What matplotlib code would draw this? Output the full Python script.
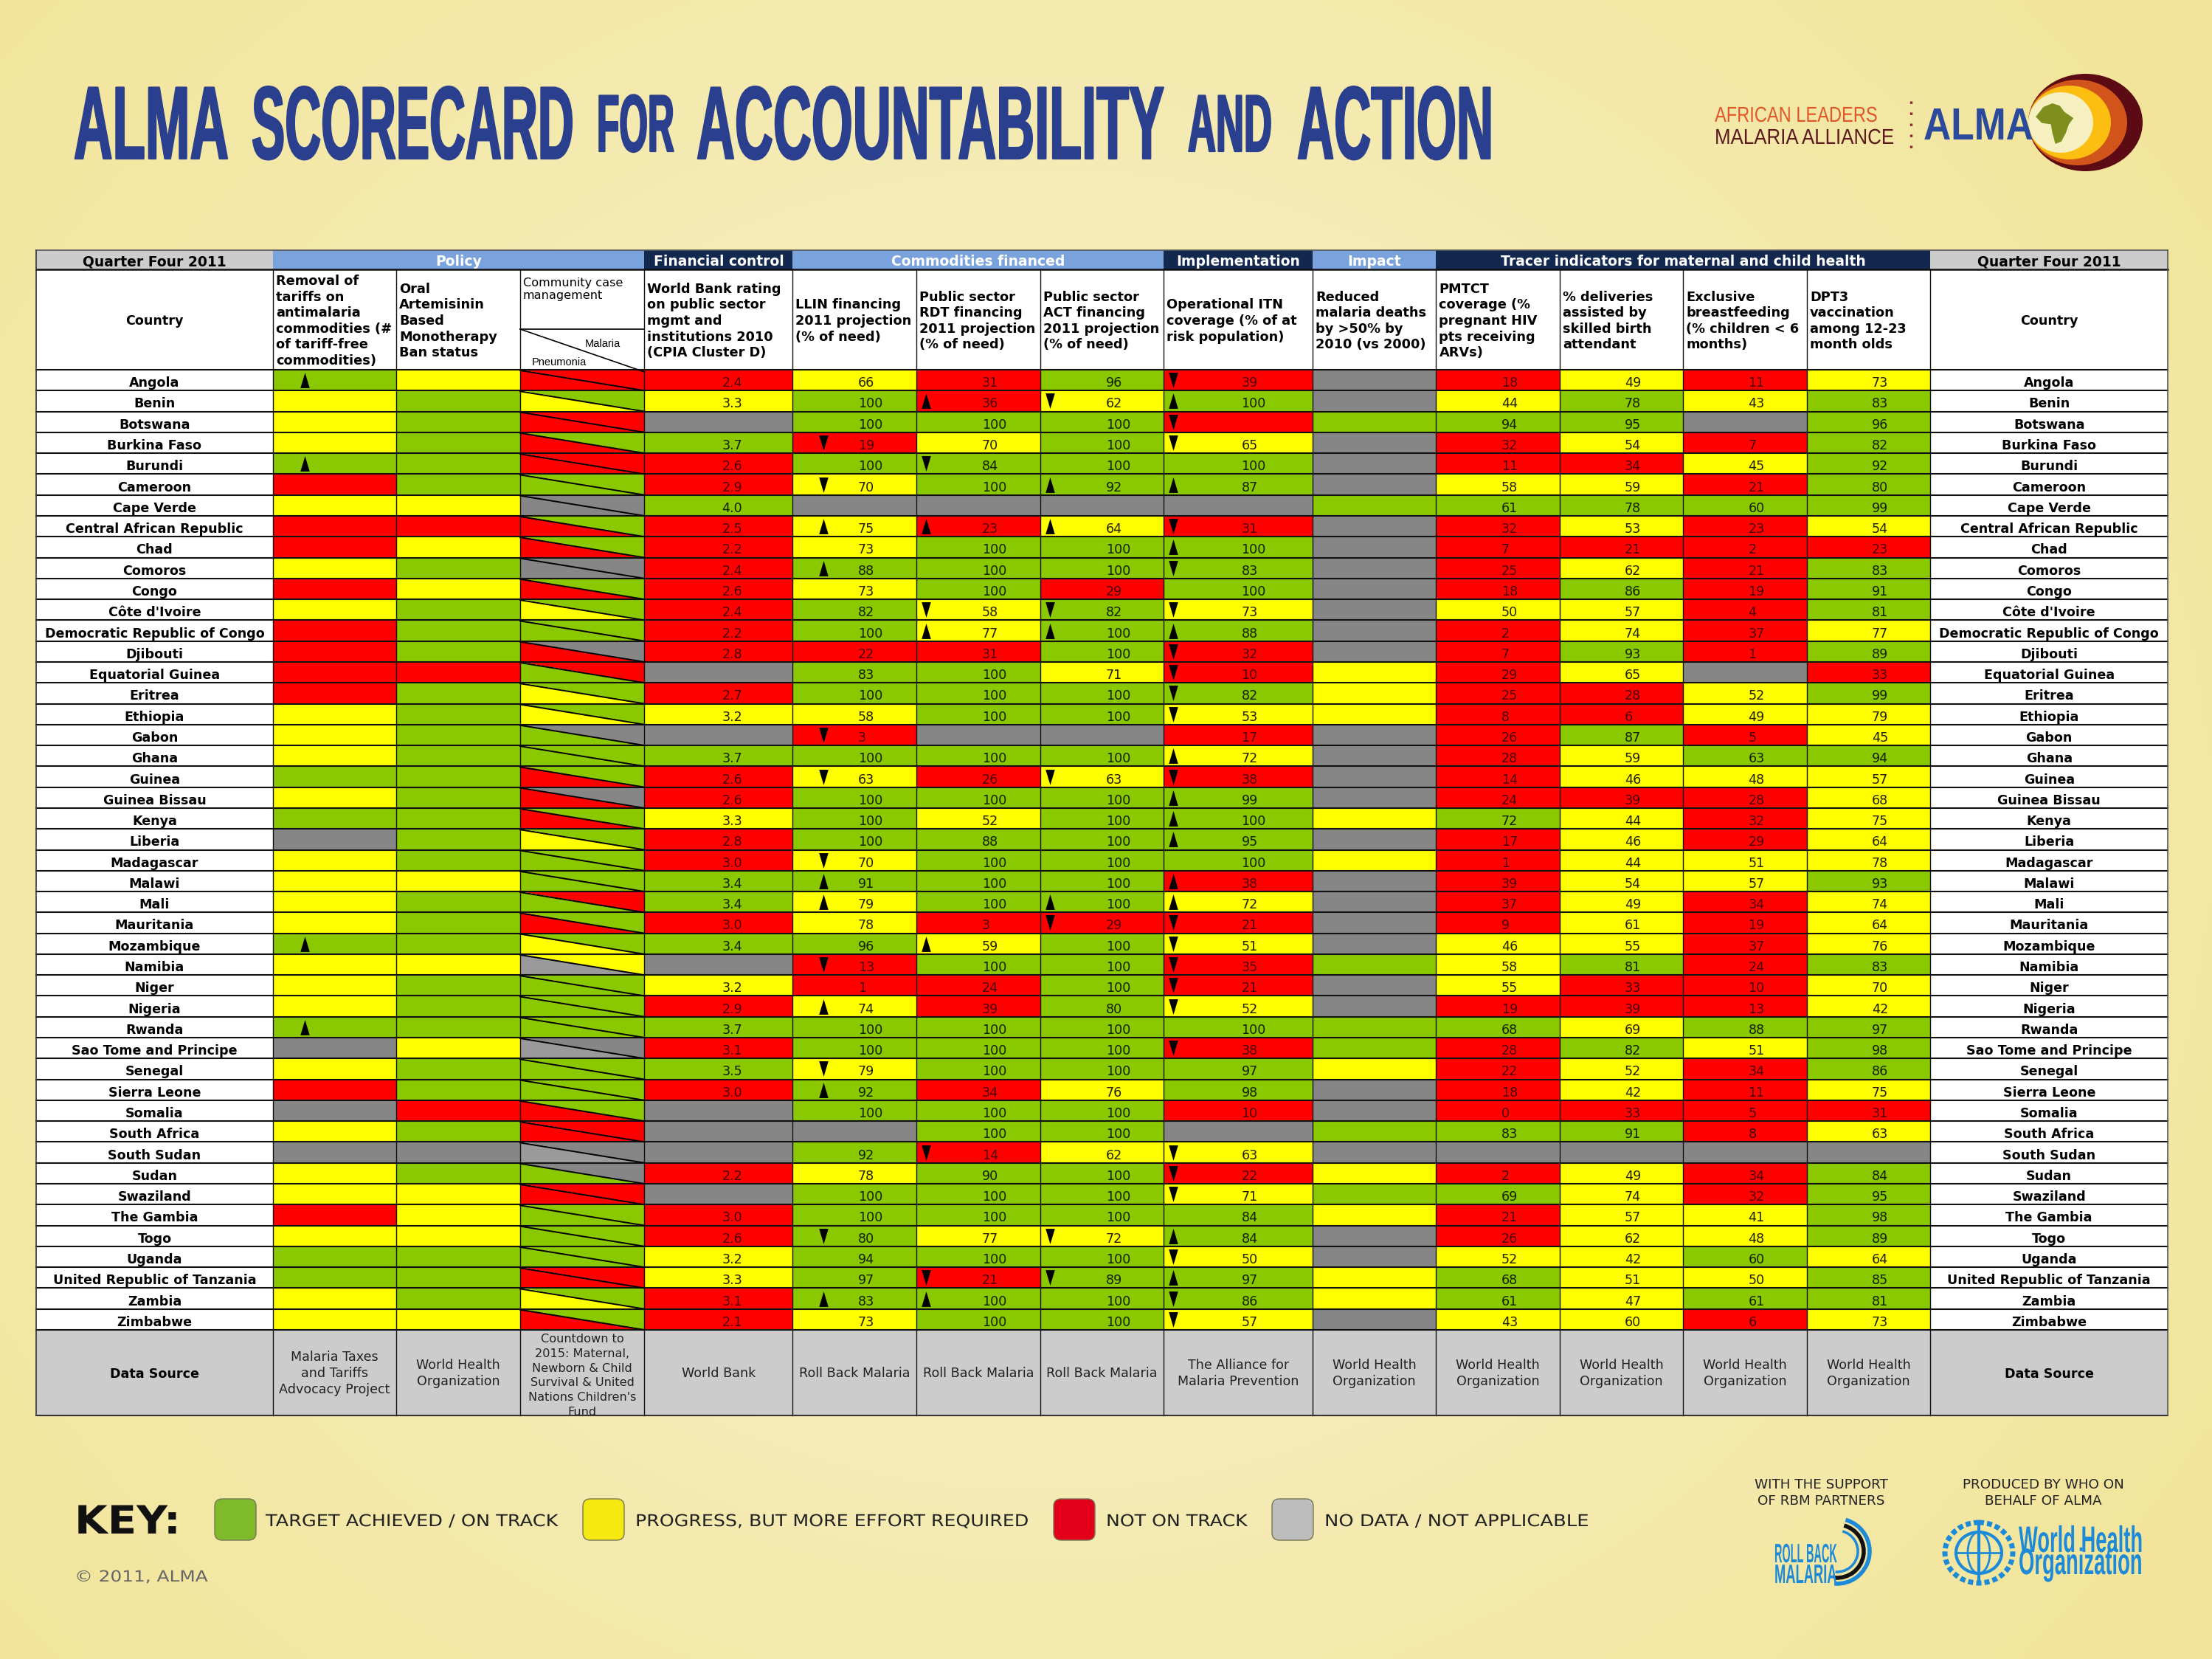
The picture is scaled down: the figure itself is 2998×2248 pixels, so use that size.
import numpy as np
import matplotlib
matplotlib.use('Agg')
import matplotlib.pyplot as plt
from matplotlib.patches import Rectangle, Polygon, Ellipse, FancyBboxPatch, Arc
from matplotlib.patheffects import AbstractPathEffect
from matplotlib.transforms import Affine2D

countries = ['Angola','Benin','Botswana','Burkina Faso','Burundi','Cameroon','Cape Verde','Central African Republic','Chad','Comoros',
             'Congo',"Côte d'Ivoire",'Democratic Republic of Congo','Djibouti','Equatorial Guinea','Eritrea','Ethiopia','Gabon','Ghana','Guinea',
             'Guinea Bissau','Kenya','Liberia','Madagascar','Malawi','Mali','Mauritania','Mozambique','Namibia','Niger',
             'Nigeria','Rwanda','Sao Tome and Principe','Senegal','Sierra Leone','Somalia','South Africa','South Sudan','Sudan','Swaziland',
             'The Gambia','Togo','Uganda','United Republic of Tanzania','Zambia','Zimbabwe']

# status per country: G on track, Y progress, R not on track, X no data, L no data (lighter)
tariff_col = "GYYYGRYRRY" "RYRRRRYYYG" "YGXYYYYGYY" "YGXYRXYXYY" "RYGGYY"
tariff_arrow = "u...u....." ".........." ".......u.." ".u........" "......"
oral_col = "YGGGGGYRYG" "YGGGRGGGGG" "GGGGYGGGYG" "GGYGGRGXGY" "YYGGGY"
malaria_col = "RGRGRGXGGX" "GGGXRGGXGG" "XGGGGRGGYG" "GGXGGGRXXR" "GGGRGG"
pneumonia_col = "RYRRRGXRRX" "RYGRGYYGGR" "RRYGGGRYLG" "GGLGGRRLGR" "GGGRYR"

wb_val = [2.4,3.3,None,3.7,2.6,2.9,4.0,2.5,2.2,2.4, 2.6,2.4,2.2,2.8,None,2.7,3.2,None,3.7,2.6,
          2.6,3.3,2.8,3.0,3.4,3.4,3.0,3.4,None,3.2, 2.9,3.7,3.1,3.5,3.0,None,None,None,2.2,None, 3.0,2.6,3.2,3.3,3.1,2.1]
wb_col = "RYXGRRGRRR" "RRRRXRYXGR" "RYRRGGRGXY" "RGRGRXXXRX" "RRYYRR"

llin_val = [66,100,100,19,100,70,None,75,73,88, 73,82,100,22,83,100,58,3,100,63,
            100,100,100,70,91,79,78,96,13,1, 74,100,100,79,92,100,None,92,78,100, 100,80,94,97,83,73]
llin_col = "YGGRGYXYYG" "YGGRGGYRGY" "GGGYGYYGRR" "YGGYGGXGYG" "GGGGGY"
llin_arrow = "...d.d.u.u" ".......d.d" "...duu..d." "u..du....." ".d..u."

rdt_val = [31,36,100,70,84,100,None,23,100,100, 100,58,77,31,100,100,100,None,100,26,
           100,52,88,100,100,100,3,59,100,24, 39,100,100,100,34,100,100,14,90,100, 100,77,100,21,100,100]
rdt_col = "RRGYGGXRGG" "GYYRGGGXGR" "GYGGGGRYGR" "RGGGRGGRGG" "GYGRGG"
rdt_arrow = ".u..d..u.." ".du......." ".......u.." ".......d.." "...du."

act_val = [96,62,100,100,100,92,None,64,100,100, 29,82,100,100,71,100,100,None,100,63,
           100,100,100,100,100,100,29,100,100,100, 80,100,100,100,76,100,100,62,100,100, 100,72,100,89,100,100]
act_col = "GYGGGGXYGG" "RGGGYGGXGY" "GGGGGGRGGG" "GGGGYGGYGG" "GYGGGG"
act_arrow = ".d...u.u.." ".du......d" ".....ud..." ".........." ".d.d.."

itn_val = [39,100,None,65,100,87,None,31,100,83, 100,73,88,32,10,82,53,17,72,38,
           99,100,95,100,38,72,21,51,35,21, 52,100,38,97,98,10,None,63,22,71, 84,84,50,97,86,57]
itn_col = "RGRYGGXRGG" "GYGRRGYRYR" "GGGGRYRYRR" "YGRGGRXYRY" "GGYGGY"
itn_arrow = "dudd.u.dud" ".dudddd.ud" "uuu.uudddd" "d.d....ddd" ".ududd"

impact_col = "XXGXXXGXXX" "XXXXYYYXXX" "XYXYXXXXGX" "XGGYXXGXYG" "YXXYYX"

pmtct_val = [18,44,94,32,11,58,61,32,7,25, 18,50,2,7,29,25,8,26,28,14,
             24,72,17,1,39,37,9,46,58,55, 19,68,28,22,18,0,83,None,2,69, 21,26,52,68,61,43]
pmtct_col = "RYGRRYGRRR" "RYRRRRRRRR" "RGRRRRRYYY" "RGRRRRGXRG" "RRYGGY"
deliv_val = [49,78,95,54,34,59,78,53,21,62, 86,57,74,93,65,28,6,87,59,46,
             39,44,46,44,54,49,61,55,81,33, 39,69,82,52,42,33,91,None,49,74, 57,62,42,51,47,60]
deliv_col = "YGGYRYGYRY" "GYYGYRRGYY" "RYYYYYYYGR" "RYGYYRGXYY" "YYYYYY"
bf_val = [11,43,None,7,45,21,60,23,2,21, 19,4,37,1,None,52,49,5,63,48,
          28,32,29,51,57,34,19,37,24,10, 13,88,51,34,11,5,8,None,34,32, 41,48,60,50,61,6]
bf_col = "RYXRYRGRRR" "RRRRXYYRGY" "RRRYYRRRRR" "RGYRRRRXRR" "YYGYGR"
dpt_val = [73,83,96,82,92,80,99,54,23,83, 91,81,77,89,33,99,79,45,94,57,
           68,75,64,78,93,74,64,76,83,70, 42,97,98,86,75,31,63,None,84,95, 98,89,64,85,81,73]
dpt_col = "YGGGGGGYRG" "GGYGRGYYGY" "YYYYGYYYGY" "YGGGYRYXGG" "GGYGGY"

col_heads = ["Removal of\ntariffs on\nantimalaria\ncommodities (#\nof tariff-free\ncommodities)",
             "Oral\nArtemisinin\nBased\nMonotherapy\nBan status", "",
             "World Bank rating\non public sector\nmgmt and\ninstitutions 2010\n(CPIA Cluster D)",
             "LLIN financing\n2011 projection\n(% of need)",
             "Public sector\nRDT financing\n2011 projection\n(% of need)",
             "Public sector\nACT financing\n2011 projection\n(% of need)",
             "Operational ITN\ncoverage (% of at\nrisk population)",
             "Reduced\nmalaria deaths\nby >50% by\n2010 (vs 2000)",
             "PMTCT\ncoverage (%\npregnant HIV\npts receiving\nARVs)",
             "% deliveries\nassisted by\nskilled birth\nattendant",
             "Exclusive\nbreastfeeding\n(% children < 6\nmonths)",
             "DPT3\nvaccination\namong 12-23\nmonth olds"]
col_sources = ["Malaria Taxes\nand Tariffs\nAdvocacy Project", "World Health\nOrganization",
               "Countdown to\n2015: Maternal,\nNewborn & Child\nSurvival & United\nNations Children's\nFund",
               "World Bank", "Roll Back Malaria", "Roll Back Malaria", "Roll Back Malaria",
               "The Alliance for\nMalaria Prevention", "World Health\nOrganization", "World Health\nOrganization",
               "World Health\nOrganization", "World Health\nOrganization", "World Health\nOrganization"]
sections = ["Quarter Four 2011", "Policy", "Financial control", "Commodities financed", "Implementation",
            "Impact", "Tracer indicators for maternal and child health", "Quarter Four 2011"]
key_labels = ["TARGET ACHIEVED / ON TRACK", "PROGRESS, BUT MORE EFFORT REQUIRED", "NOT ON TRACK", "NO DATA / NOT APPLICABLE"]

# layout, in pixels of the output image
xe = [49, 370, 537, 705, 873.5, 1074.5, 1242, 1410, 1577.5, 1779, 1946.5, 2114, 2281.5, 2449, 2616.5, 2938]
sec_edges = [49, 370, 873.5, 1074.5, 1577.5, 1779, 1946.5, 2616.5, 2938]
sec_face = ['#CCCCCC', '#7AA3DE', '#13284F', '#7AA3DE', '#13284F', '#7AA3DE', '#13284F', '#CCCCCC']
sec_text = ['black', 'white', 'white', 'white', 'white', 'white', 'white', 'black']
y_top, y_sec, y_rows, y_src, y_bot = 339, 365, 501, 1802, 1918
row_h = (y_src - y_rows) / len(countries)
cell_colors = {'G': '#8AC800', 'Y': '#FFFF00', 'R': '#FF0000', 'X': '#868686', 'L': '#9A9A9A'}
num_colors = {'G': '#102000', 'Y': '#202000', 'R': '#4A0000', 'X': 'black', 'L': 'black'}

fig = plt.figure(figsize=(29.98, 22.48), dpi=100)
ax = fig.add_axes([0, 0, 1, 1])
renderer = fig.canvas.get_renderer()

# background glow
gx, gy = np.meshgrid(np.linspace(0, 1, 300), np.linspace(0, 1, 225))
glow = np.clip(np.sqrt(((gx - 0.47) / 0.62) ** 2 + ((gy - 0.5) / 0.75) ** 2), 0, 1)[..., None]
bg = (np.array([248, 243, 211]) * (1 - glow) + np.array([242, 229, 155]) * glow) / 255
ax.imshow(bg, extent=[0, 2998, 2248, 0], aspect='auto', interpolation='bilinear', zorder=0)
ax.set_xlim(0, 2998)
ax.set_ylim(2248, 0)
ax.axis('off')


class Stretch(AbstractPathEffect):
    # scales a text about its anchor, no condensed face is installed
    def __init__(self, sx, sy, x0, y0, stroke=0):
        super().__init__()
        self.sx = sx
        self.sy = sy
        self.x0 = x0
        self.y0 = y0
        self.stroke = stroke

    def draw_path(self, renderer, gc, tpath, affine, rgbFace=None):
        t = Affine2D().translate(-self.x0, -self.y0).scale(self.sx, self.sy).translate(self.x0, self.y0)
        gc0 = renderer.new_gc()
        gc0.copy_properties(gc)
        if self.stroke:
            gc0.set_foreground(rgbFace)
            gc0.set_linewidth(self.stroke)
        renderer.draw_path(gc0, tpath, affine + t, rgbFace)
        gc0.restore()


def fit_text(x0, x1, y, s, size, color, family=['Liberation Sans Narrow', 'Liberation Sans'], weight='bold', stroke=0):
    # size is the visual height wanted, the font is set so the text's width is x1 - x0
    t = ax.text(x0, y, s, fontsize=size, color=color, family=family, weight=weight, ha='left', va='baseline', zorder=6)
    ratio = (x1 - x0) / t.get_window_extent(renderer).width
    t.set_fontsize(size * ratio)
    sx = (x1 - x0) / t.get_window_extent(renderer).width
    t.set_path_effects([Stretch(sx, 1 / ratio, x0, 2248 - y, stroke)])
    return t


def rect(x0, y0, x1, y1, c, z=2):
    ax.add_patch(Rectangle((x0, y0), x1 - x0, y1 - y0, facecolor=c, edgecolor='none', zorder=z))


# title
navy = '#2B3F8F'
fit_text(100, 310, 215, 'ALMA', 101, navy, stroke=1.6)
fit_text(341, 778, 215, 'SCORECARD', 101, navy, stroke=1.6)
fit_text(809, 914, 205, 'FOR', 79, navy, stroke=1.6)
fit_text(944, 1577, 215, 'ACCOUNTABILITY', 101, navy, stroke=1.6)
fit_text(1610, 1724, 205, 'AND', 79, navy, stroke=1.6)
fit_text(1758, 2024, 215, 'ACTION', 101, navy, stroke=1.6)

# section bars
for i, name in enumerate(sections):
    rect(sec_edges[i], y_top, sec_edges[i + 1], y_sec, sec_face[i])
    ax.text((sec_edges[i] + sec_edges[i + 1]) / 2, (y_top + y_sec) / 2 + 3, name, ha='center', va='center',
            fontsize=13.5, weight='bold', color=sec_text[i], zorder=6)

# white header and country columns
rect(xe[0], y_sec, xe[-1], y_src, 'white')
for x0, x1 in [(xe[0], xe[1]), (xe[14], xe[15])]:
    ax.text((x0 + x1) / 2, 435, 'Country', ha='center', va='center', fontsize=12.6, weight='bold', zorder=6)
    ax.text((x0 + x1) / 2, y_src + 60, 'Data Source', ha='center', va='center', fontsize=12.6, weight='bold', zorder=6)
for j, head in enumerate(col_heads):
    if head:
        ax.text(xe[j + 1] + 4, 435, head, ha='left', va='center', fontsize=12.8, weight='bold', zorder=6, linespacing=1.25)

# community case header cell
ax.text(xe[3] + 4, 392, 'Community case\nmanagement', ha='left', va='center', fontsize=11.6, zorder=6, linespacing=1.2)
ax.text(817, 466, 'Malaria', ha='center', va='center', fontsize=10.5, family='Liberation Sans', zorder=6)
ax.text(758, 491, 'Pneumonia', ha='center', va='center', fontsize=10.5, family='Liberation Sans', zorder=6)
ax.plot([xe[3], xe[4]], [446, 446], color='#222222', lw=1.4, zorder=5)
ax.plot([xe[3], xe[4]], [446, 504], color='black', lw=1.2, zorder=5)

# data rows
num_cols = [(4, wb_val, wb_col, None, 105), (5, llin_val, llin_col, llin_arrow, 88.5), (6, rdt_val, rdt_col, rdt_arrow, 89),
            (7, act_val, act_col, act_arrow, 89), (8, itn_val, itn_col, itn_arrow, 105), (10, pmtct_val, pmtct_col, None, 88.5),
            (11, deliv_val, deliv_col, None, 88), (12, bf_val, bf_col, None, 88), (13, dpt_val, dpt_col, None, 88)]
arrow_up = [(-0.6, -1), (0.6, -1), (0, 1)]
arrow_dn = [(-0.6, 1), (0.6, 1), (0, -1)]
for i, name in enumerate(countries):
    y0 = y_rows + i * row_h
    y1 = y0 + row_h
    ym = (y0 + y1) / 2
    ax.text((xe[0] + xe[1]) / 2, ym + 4, name, ha='center', va='center', fontsize=12.6, weight='bold', zorder=6)
    ax.text((xe[14] + xe[15]) / 2, ym + 4, name, ha='center', va='center', fontsize=12.6, weight='bold', zorder=6)
    rect(xe[1], y0, xe[2], y1, cell_colors[tariff_col[i]])
    rect(xe[2], y0, xe[3], y1, cell_colors[oral_col[i]])
    rect(xe[9], y0, xe[10], y1, cell_colors[impact_col[i]])
    ax.add_patch(Polygon([(xe[3], y0), (xe[4], y0), (xe[4], y1)], facecolor=cell_colors[malaria_col[i]], edgecolor='none', zorder=2))
    ax.add_patch(Polygon([(xe[3], y0), (xe[3], y1), (xe[4], y1)], facecolor=cell_colors[pneumonia_col[i]], edgecolor='none', zorder=2))
    ax.plot([xe[3], xe[4]], [y0 + 1, y1], color='black', lw=1.4, zorder=5)
    if tariff_arrow[i] == 'u':
        ax.plot(xe[1] + 43, ym, marker=arrow_up, ms=15, color='black', mew=0, zorder=6)
    for j, vals, cols, arrows, off in num_cols:
        rect(xe[j], y0, xe[j + 1], y1, cell_colors[cols[i]])
        if vals[i] is not None:
            s = '%.1f' % vals[i] if j == 4 else str(vals[i])
            ax.text(xe[j] + off, ym + 4, s, ha='left', va='center', fontsize=12.6, color=num_colors[cols[i]], zorder=6)
        if arrows is not None and arrows[i] != '.':
            arrow_off = 42 if j == 5 else 13
            ax.plot(xe[j] + arrow_off, ym, marker=arrow_up if arrows[i] == 'u' else arrow_dn, ms=15, color='black', mew=0, zorder=6)

# data source row
rect(xe[0], y_src, xe[-1], y_bot, '#CCCCCC')
src_clip = Rectangle((xe[0], y_src), xe[-1] - xe[0], y_bot - y_src - 1, transform=ax.transData)
for j, src in enumerate(col_sources):
    small = j == 2
    t = ax.text((xe[j + 1] + xe[j + 2]) / 2, 1864 if small else (y_src + y_bot) / 2 + 1, src, ha='center', va='center',
                fontsize=11.6 if small else 12.6, color='#222222', zorder=6, linespacing=1.4 if small else 1.3)
    t.set_clip_path(src_clip)
    t.set_clip_on(True)

# grid
for i in range(len(countries) + 1):
    ax.plot([xe[0], xe[-1]], [y_rows + i * row_h] * 2, color='#111111', lw=1.5, zorder=4)
ax.plot([xe[0], xe[-1]], [y_sec, y_sec], color='#111111', lw=1.8, zorder=4)
for x in xe[1:-1]:
    ax.plot([x, x], [y_sec, y_bot], color='#111111', lw=1.0, zorder=4)
ax.plot([xe[0], xe[-1]], [y_top, y_top], color='#555555', lw=1.2, zorder=4)
ax.plot([xe[0], xe[-1]], [y_bot, y_bot], color='#333333', lw=1.5, zorder=4)
ax.plot([xe[0], xe[0]], [y_top, y_bot], color='#333333', lw=1.2, zorder=4)
ax.plot([xe[-1], xe[-1]], [y_top, y_bot], color='#555555', lw=1.2, zorder=4)

# key
fit_text(101, 245, 2078, 'KEY:', 38, '#111111', family='DejaVu Sans')
swatch_x = [291, 790, 1428, 1724]
swatch_c = ['#7FBA2B', '#F5E911', '#E2001A', '#BDBDBD']
text_x = [(360, 757), (861, 1395), (1499, 1691), (1795, 2153)]
for k, label in enumerate(key_labels):
    ax.add_patch(FancyBboxPatch((swatch_x[k] + 8, 2039), 40, 40, boxstyle='round,pad=8,rounding_size=10', facecolor=swatch_c[k],
                                edgecolor='#777755', lw=1.0, zorder=3))
    fit_text(text_x[k][0], text_x[k][1], 2068, label, 16, '#222222', family='DejaVu Sans', weight='normal')
fit_text(101, 282, 2143, '© 2011, ALMA', 15, '#666666', family='DejaVu Sans', weight='normal')

# supporters
ax.text(2468, 2023, 'WITH THE SUPPORT\nOF RBM PARTNERS', fontsize=13.2, color='#222222', ha='center', va='center', linespacing=1.35)
ax.text(2769, 2023, 'PRODUCED BY WHO ON\nBEHALF OF ALMA', fontsize=13.2, color='#222222', ha='center', va='center', linespacing=1.35)
blue = '#1C8AD8'
fit_text(2405, 2490, 2117, 'ROLL BACK', 26, blue)
fit_text(2405, 2490, 2145, 'MALARIA', 26, blue)
for r, c, w in [(44, blue, 4), (36, '#111111', 4), (28, blue, 2.5)]:
    ax.add_patch(Arc((2490, 2102), 2 * r, 2 * r, theta1=-75, theta2=95, color=c, lw=w, zorder=5))
ax.add_patch(Ellipse((2682, 2104), 92, 82, facecolor='none', edgecolor=blue, lw=5, ls=(0, (1, 0.6)), zorder=5))
ax.add_patch(Ellipse((2682, 2104), 62, 56, facecolor='none', edgecolor=blue, lw=3, zorder=5))
ax.add_patch(Ellipse((2682, 2104), 30, 56, facecolor='none', edgecolor=blue, lw=2, zorder=5))
ax.plot([2682, 2682], [2064, 2146], color=blue, lw=3, zorder=5)
ax.plot([2652, 2712], [2104, 2104], color=blue, lw=2, zorder=5)
fit_text(2736, 2904, 2103, 'World Health', 36, blue)
fit_text(2736, 2904, 2133, 'Organization', 36, blue)

# ALMA logo
ax.add_patch(Ellipse((2826.5, 166), 155, 132, facecolor='#5C0A14', edgecolor='none', zorder=2))
ax.add_patch(Ellipse((2816, 166), 134, 116, facecolor='#D1541B', edgecolor='none', zorder=2))
ax.add_patch(Ellipse((2805, 166), 112, 100, facecolor='#FDBE12', edgecolor='none', zorder=2))
ax.add_patch(Ellipse((2793, 166), 88, 82, facecolor='#F6EFC0', edgecolor='none', zorder=2))
africa = [(1125, 235), (1150, 195), (1180, 180), (1205, 190), (1220, 215), (1250, 240), (1235, 265), (1225, 300), (1210, 335),
          (1190, 345), (1180, 300), (1175, 265), (1145, 260)]
ax.add_patch(Polygon([(2300 + x / 2.45, 80 + y / 3) for x, y in africa], facecolor='#7F8F1E', edgecolor='none', zorder=3))
fit_text(2324, 2544, 165, 'AFRICAN LEADERS', 21, '#E0582A', family='Liberation Sans', weight='normal')
fit_text(2324, 2567, 195, 'MALARIA ALLIANCE', 21, '#5C1A1F', family='Liberation Sans', weight='normal')
ax.plot([2590, 2590], [137, 202], color='#8A2030', lw=2.4, ls=(0, (1, 3.5)), zorder=3)
fit_text(2607, 2756, 189, 'ALMA', 44, '#2B4A9B', family='Liberation Sans')

fig.savefig('out.png', dpi=100)
